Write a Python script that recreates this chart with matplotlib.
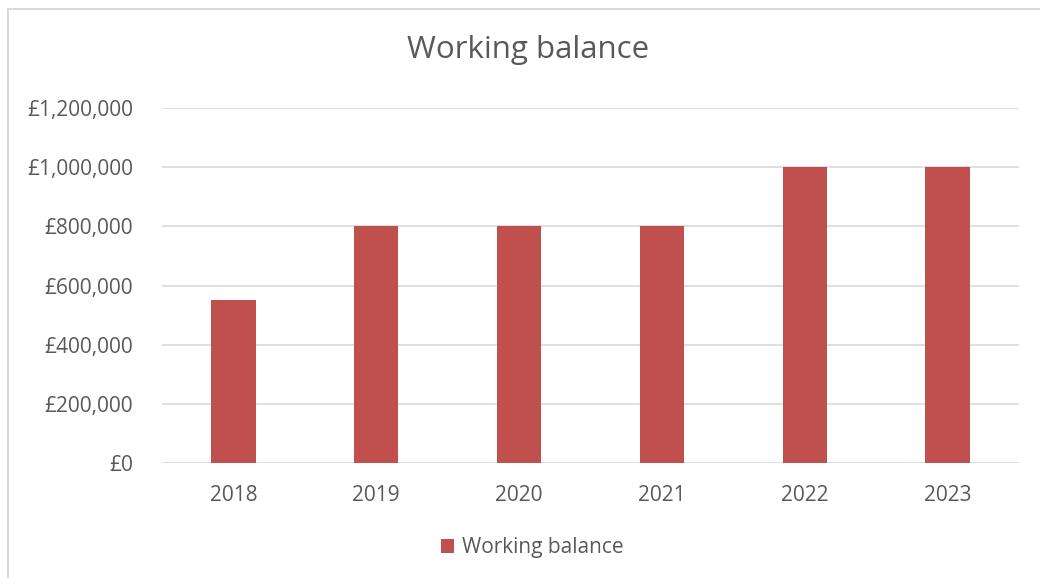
import matplotlib.pyplot as plt
from matplotlib.patches import Rectangle
from matplotlib.ticker import FuncFormatter

years = ["2018", "2019", "2020", "2021", "2022", "2023"]
balance = [550000, 800000, 800000, 800000, 1000000, 1000000]

bar_color = "#C0504D"
text_color = "#595959"
grid_color = "#D9D9D9"

plt.rcParams['font.family'] = ['Open Sans', 'DejaVu Sans']

fig = plt.figure(figsize=(10.4, 5.78), dpi=100)
ax = fig.add_axes([0.1558, 0.199, 0.824, 0.614])

x = range(len(years))
ax.bar(x, balance, width=0.31, color=bar_color, label="Working balance", zorder=3)

ax.set_xlim(-0.5, len(years) - 0.5)
ax.set_ylim(0, 1200000)
ax.set_yticks(range(0, 1200001, 200000))
ax.yaxis.set_major_formatter(FuncFormatter(lambda v, p: f"£{int(v):,}"))
ax.set_xticks(list(x))
ax.set_xticklabels(years)

ax.grid(axis='y', color=grid_color, linewidth=1.2, zorder=0)
for s in ax.spines.values():
    s.set_visible(False)
ax.tick_params(length=0, colors=text_color, labelsize=15)
ax.tick_params(axis='y', pad=21)
ax.tick_params(axis='x', pad=16)

# outer chart border (cut off at right/bottom)
fig.patches.append(Rectangle((8 / 1040, -0.1), 1.2, 1.1 - 9 / 578,
                             transform=fig.transFigure, fill=False,
                             edgecolor=grid_color, linewidth=1.5))

fig.text(0.508, 1 - 58 / 578, "Working balance", ha='center', va='baseline',
         fontsize=22.5, color=text_color)

fig.legend(loc='center', bbox_to_anchor=(0.512, 0.052), frameon=False,
           fontsize=15, labelcolor=text_color, handlelength=0.62,
           handleheight=0.62, handletextpad=0.4)

fig.savefig("out.png", dpi=100)
